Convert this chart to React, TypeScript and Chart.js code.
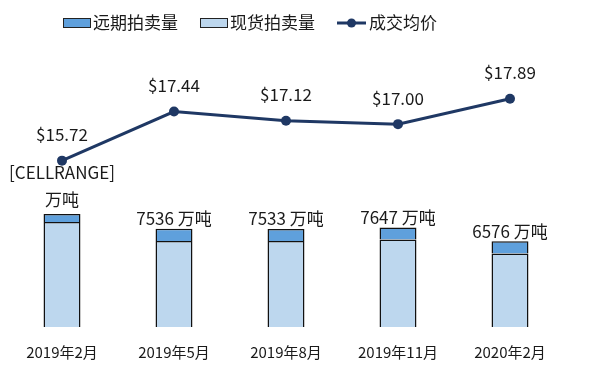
import React, { useEffect, useRef } from 'react';
import { Chart, registerables } from 'chart.js';

Chart.register(...registerables);

const categories = ['2019年2月', '2019年5月', '2019年8月', '2019年11月', '2020年2月'];
const spotVolumes = [8060, 6610, 6607, 6721, 5650];
const forwardVolumes = [620, 926, 926, 926, 926];
const barLabelLines = [['[CELLRANGE]', '万吨'], ['7536 万吨'], ['7533 万吨'], ['7647 万吨'], ['6576 万吨']];
const prices = [15.72, 17.44, 17.12, 17.0, 17.89];
const legendNames = ['远期拍卖量', '现货拍卖量', '成交均价'];

const FONT = '"Noto Sans CJK SC", "Noto Sans", sans-serif';
const TEXT = '#1a1a1a';
const FORWARD_COLOR = '#5fa0dc';
const SPOT_COLOR = '#bdd7ee';
const LINE_COLOR = '#1f3864';

const labelPlugin = {
  id: 'customLabels',
  afterDatasetsDraw(chart: any) {
    const ctx = chart.ctx;
    ctx.save();
    ctx.fillStyle = TEXT;
    ctx.textAlign = 'center';
    ctx.textBaseline = 'middle';
    const topMeta = chart.getDatasetMeta(1);
    ctx.font = `17px ${FONT}`;
    topMeta.data.forEach((bar: any, i: number) => {
      const lines = barLabelLines[i];
      const n = lines.length;
      lines.forEach((t, j) => {
        const offset = n === 1 ? 10 : 14 + (n - 1 - j) * 27;
        ctx.fillText(t, bar.x, bar.y - offset);
      });
    });
    const lineMeta = chart.getDatasetMeta(2);
    ctx.font = `17px ${FONT}`;
    lineMeta.data.forEach((pt: any, i: number) => {
      ctx.fillText('$' + prices[i].toFixed(2), pt.x, pt.y - 26);
    });
    ctx.restore();
  },
};

const legendPlugin = {
  id: 'customLegend',
  afterDraw(chart: any) {
    const ctx = chart.ctx;
    ctx.save();
    ctx.font = `17px ${FONT}`;
    ctx.textBaseline = 'middle';
    ctx.textAlign = 'left';
    const cy = 23;
    let x = 63;
    const gap = 22;
    ctx.fillStyle = FORWARD_COLOR;
    ctx.fillRect(x, cy - 4.5, 27, 9);
    ctx.strokeStyle = '#222';
    ctx.lineWidth = 1;
    ctx.strokeRect(x + 0.5, cy - 4.5, 27, 9);
    x += 30;
    ctx.fillStyle = TEXT;
    ctx.fillText(legendNames[0], x, cy);
    x += ctx.measureText(legendNames[0]).width + gap;
    ctx.fillStyle = SPOT_COLOR;
    ctx.fillRect(x, cy - 4.5, 27, 9);
    ctx.strokeRect(x + 0.5, cy - 4.5, 27, 9);
    x += 30;
    ctx.fillStyle = TEXT;
    ctx.fillText(legendNames[1], x, cy);
    x += ctx.measureText(legendNames[1]).width + gap;
    ctx.strokeStyle = LINE_COLOR;
    ctx.lineWidth = 3;
    ctx.beginPath();
    ctx.moveTo(x, cy);
    ctx.lineTo(x + 29, cy);
    ctx.stroke();
    ctx.fillStyle = LINE_COLOR;
    ctx.beginPath();
    ctx.arc(x + 14.5, cy, 4.5, 0, Math.PI * 2);
    ctx.fill();
    x += 32;
    ctx.fillStyle = TEXT;
    ctx.fillText(legendNames[2], x, cy);
    ctx.restore();
  },
};

export default function App() {
  const canvasRef = useRef<HTMLCanvasElement | null>(null);

  useEffect(() => {
    if (!canvasRef.current) return;
    const chart = new Chart(canvasRef.current, {
      type: 'bar',
      data: {
        labels: categories,
        datasets: [
          {
            type: 'bar',
            label: legendNames[1],
            data: spotVolumes,
            backgroundColor: SPOT_COLOR,
            borderColor: '#111',
            borderWidth: 1.5,
            yAxisID: 'y',
            order: 2,
          },
          {
            type: 'bar',
            label: legendNames[0],
            data: forwardVolumes,
            backgroundColor: FORWARD_COLOR,
            borderColor: '#111',
            borderWidth: 1.5,
            yAxisID: 'y',
            order: 2,
          },
          {
            type: 'line',
            label: legendNames[2],
            data: prices,
            borderColor: LINE_COLOR,
            backgroundColor: LINE_COLOR,
            borderWidth: 3,
            pointRadius: 5,
            pointBackgroundColor: LINE_COLOR,
            pointBorderWidth: 0,
            tension: 0,
            yAxisID: 'y1',
            order: 0,
          } as any,
        ],
      },
      options: {
        responsive: true,
        maintainAspectRatio: false,
        animation: false,
        devicePixelRatio: 1,
        datasets: { bar: { barPercentage: 0.33, categoryPercentage: 1 } },
        layout: { padding: { top: 50, left: 6, right: 47, bottom: 0 } },
        plugins: { legend: { display: false }, tooltip: { enabled: false } },
        scales: {
          x: {
            stacked: true,
            grid: { display: false, drawTicks: false },
            border: { display: false },
            ticks: { color: TEXT, font: { size: 15, family: FONT }, padding: 16, maxRotation: 0, autoSkip: false },
          },
          y: { display: false, stacked: true, min: 0, max: 21270 },
          y1: { display: false, min: 9.885, max: 19.6 },
        },
      },
      plugins: [labelPlugin, legendPlugin],
    });
    return () => chart.destroy();
  }, []);

  return (
    <div style={{ position: 'fixed', left: 0, top: 0, width: 613, height: 377, background: '#fff' }}>
      <canvas ref={canvasRef} />
    </div>
  );
}
